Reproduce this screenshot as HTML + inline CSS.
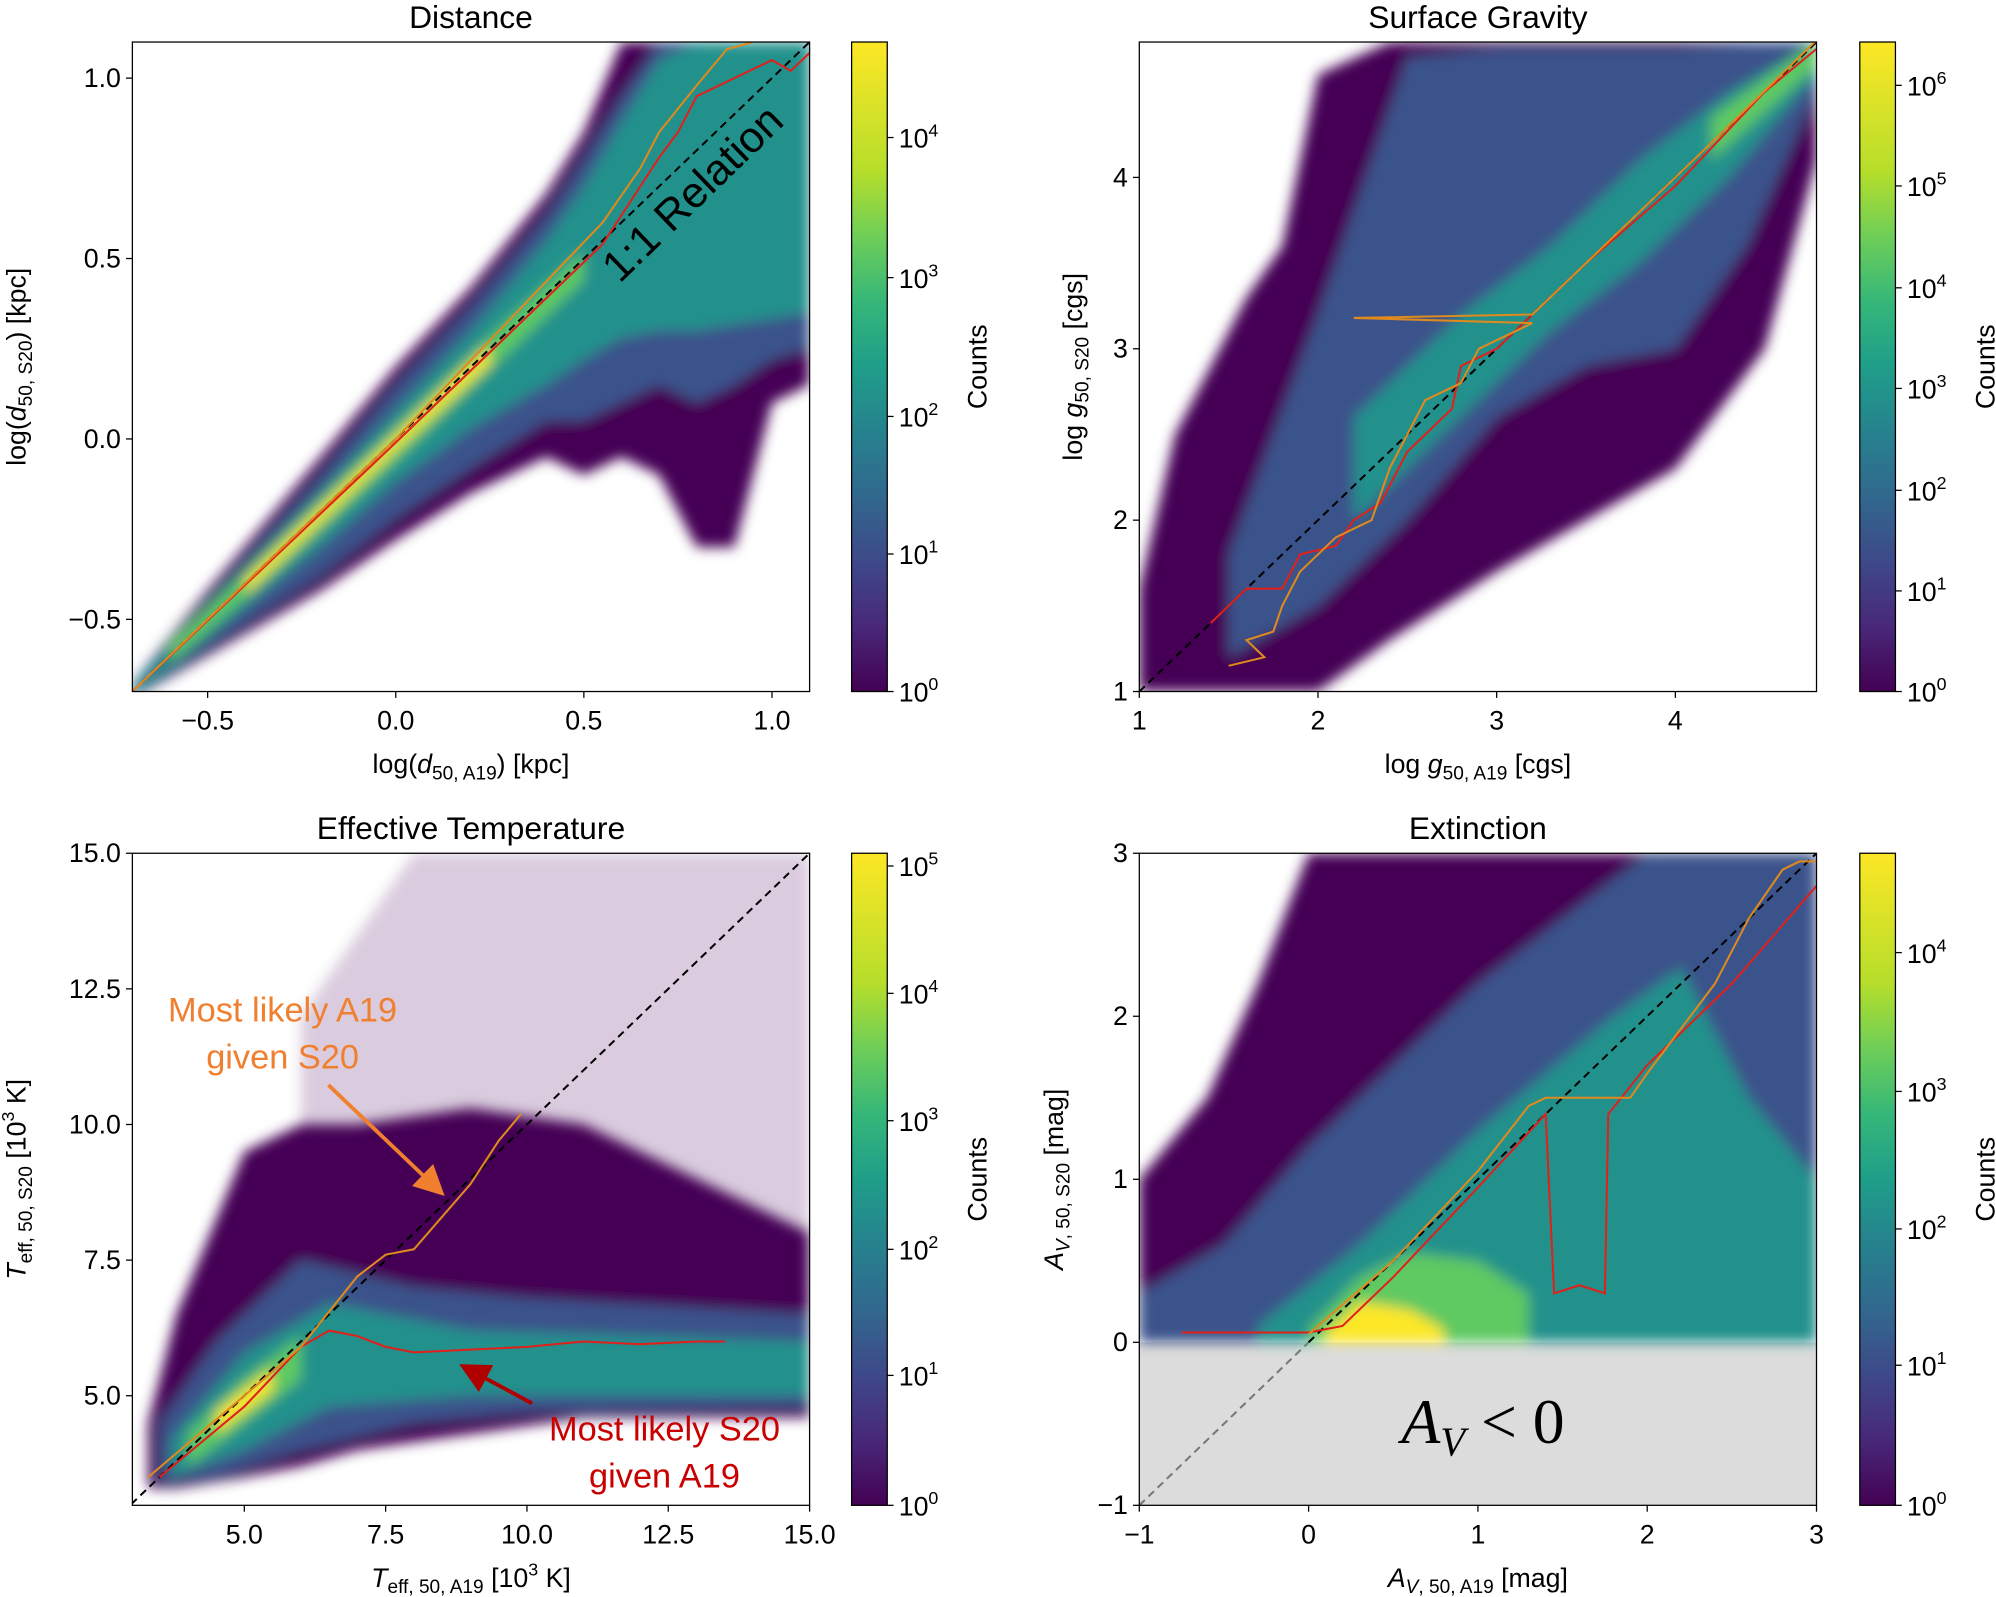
<!DOCTYPE html>
<html><head><meta charset="utf-8"><style>
html,body{margin:0;padding:0;background:#fff;}
svg{display:block;font-family:"Liberation Sans","DejaVu Sans",sans-serif;}
</style></head><body>
<svg id="fig" width="1996" height="1597" viewBox="0 0 1568 1254" preserveAspectRatio="none" xmlns="http://www.w3.org/2000/svg">
<defs>
<linearGradient id="vir" x1="0" y1="1" x2="0" y2="0">
<stop offset="0" stop-color="#440154"/><stop offset="0.1" stop-color="#482878"/><stop offset="0.2" stop-color="#3e4989"/><stop offset="0.3" stop-color="#31688e"/><stop offset="0.4" stop-color="#26828e"/><stop offset="0.5" stop-color="#1f9e89"/><stop offset="0.6" stop-color="#35b779"/><stop offset="0.7" stop-color="#6ece58"/><stop offset="0.8" stop-color="#b5de2b"/><stop offset="1" stop-color="#fde725"/>
</linearGradient>
<filter id="blur" x="-5%" y="-5%" width="110%" height="110%"><feGaussianBlur stdDeviation="5"/></filter>
<marker id="ahO" markerWidth="8" markerHeight="8" refX="6" refY="4" orient="auto"><path d="M0,0 L8,4 L0,8 z" fill="#f07f30"/></marker>
<marker id="ahR" markerWidth="8" markerHeight="8" refX="6" refY="4" orient="auto"><path d="M0,0 L8,4 L0,8 z" fill="#b00000"/></marker>
</defs>
</svg>
<script>
// ---------- data ----------
const distLayers = [
 [[-0.7,-0.72,-0.68],[-0.5,-0.6,-0.42],[-0.2,-0.42,-0.05],[0,-0.28,0.2],[0.2,-0.15,0.42],[0.4,-0.05,0.68],[0.5,-0.1,0.85],[0.6,-0.05,1.1],[0.7,-0.1,1.1],[0.8,-0.3,1.1],[0.9,-0.3,1.1],[1.0,0.1,1.1],[1.1,0.15,1.1]],
 [[-0.7,-0.72,-0.68],[-0.5,-0.58,-0.45],[-0.2,-0.38,-0.1],[0,-0.22,0.15],[0.2,-0.08,0.37],[0.4,0.05,0.62],[0.5,0.05,0.78],[0.6,0.1,0.95],[0.7,0.15,1.1],[0.8,0.1,1.1],[0.9,0.15,1.1],[1.0,0.22,1.1],[1.1,0.25,1.1]],
 [[-0.7,-0.71,-0.69],[-0.5,-0.55,-0.47],[-0.2,-0.3,-0.15],[0,-0.12,0.08],[0.2,0.03,0.3],[0.4,0.15,0.55],[0.5,0.22,0.7],[0.6,0.28,0.88],[0.7,0.3,1.05],[0.8,0.3,1.1],[1.1,0.35,1.1]],
 [[-0.6,-0.62,-0.57],[-0.3,-0.35,-0.27],[0,-0.06,0.03],[0.3,0.24,0.33],[0.5,0.44,0.52]],
 [[-0.4,-0.43,-0.39],[0,-0.03,0.01],[0.25,0.21,0.26]]
];
const distRed = [[-0.7,-0.7],[0,-0.01],[0.55,0.54],[0.6,0.62],[0.7,0.78],[0.75,0.85],[0.8,0.95],[0.9,1.0],[1.0,1.05],[1.05,1.02],[1.1,1.07]];
const distOrange = [[-0.7,-0.7],[0,0.0],[0.55,0.6],[0.65,0.75],[0.7,0.85],[0.8,0.98],[0.88,1.08],[0.95,1.1]];
const gravLayers = [
 [[1,1,1.6],[1.2,1,2.5],[1.6,1,3.3],[1.8,1,3.6],[2.0,1,4.6],[2.4,1.3,4.79],[3,1.7,4.79],[3.5,2.0,4.79],[4,2.3,4.79],[4.5,3.0,4.79],[4.79,4.1,4.79]],
 [[1.5,1.2,1.8],[2,1.5,3.2],[2.5,2.0,4.7],[3,2.6,4.75],[3.5,2.9,4.75],[4,3.0,4.75],[4.4,3.6,4.79],[4.79,4.5,4.79]],
 [[2.2,2.0,2.6],[2.8,2.6,3.2],[3.3,3.1,3.6],[3.8,3.5,4.1],[4.3,4.0,4.5],[4.79,4.6,4.79]],
 [[4.2,4.1,4.35],[4.79,4.65,4.79]]
];
const gravRed = [[1.4,1.4],[1.6,1.6],[1.8,1.6],[1.9,1.8],[2.1,1.85],[2.2,2.0],[2.35,2.1],[2.5,2.4],[2.6,2.5],[2.75,2.65],[2.8,2.9],[3.0,3.0],[3.2,3.2],[3.5,3.5],[4.0,3.95],[4.5,4.5],[4.79,4.75]];
const gravOrange = [[1.5,1.15],[1.7,1.2],[1.6,1.3],[1.75,1.35],[1.8,1.5],[1.9,1.7],[2.1,1.9],[2.3,2.0],[2.4,2.3],[2.5,2.5],[2.6,2.7],[2.8,2.8],[2.9,3.0],[3.2,3.15],[2.2,3.18],[3.2,3.2],[3.3,3.3],[3.6,3.6],[4.2,4.2],[4.79,4.8]];
const teffLayers = [
 [[3.3,3.3,4.5],[3.8,3.3,6.5],[5,3.5,9.5],[6,3.7,10],[7,4.0,10],[9,4.3,10.3],[11,4.6,10],[13,4.6,9],[15,4.6,8]],
 [[3.5,3.4,4.5],[4.5,3.5,6],[6,4,7.5],[8,4.5,7],[10,4.7,6.8],[15,4.8,6.5]],
 [[3.7,3.5,4.2],[5,4.0,5.8],[6.5,4.8,6.7],[9,5.0,6.2],[15,5.0,6.0]],
 [[4,3.7,4.3],[5,4.5,5.3],[6,5.3,6.1]],
 [[4.5,4.3,4.7],[5.5,5.1,5.5]]
];
const teffSparse = [[6,9,12],[8,9,15],[10,9,15],[13,8,15],[15,7,15]];
const teffRed = [[3.5,3.5],[5,4.8],[6,5.9],[6.5,6.2],[7,6.1],[7.5,5.9],[8,5.8],[9,5.85],[10,5.9],[11,6.0],[12,5.95],[13,6.0],[13.5,6.0]];
const teffOrange = [[3.3,3.5],[5,5.0],[6,5.9],[7,7.2],[7.5,7.6],[8,7.7],[8.5,8.3],[9,8.9],[9.5,9.7],[9.9,10.2]];
const extLayers = [
 [[-1,0,1.0],[-0.6,0,1.5],[-0.3,0,2.2],[0,0,3],[3,0,3]],
 [[-1,0,0.3],[-0.5,0,0.6],[0,0,1.2],[0.5,0,1.7],[1,0,2.2],[2,0,3],[3,0,3]],
 [[-0.3,0,0.1],[0.3,0,0.6],[1,0,1.3],[1.8,0,2.0],[2.2,0,2.3],[2.6,0,1.5],[3,0,1.0]],
 [[0,0,0.08],[0.3,0,0.4],[0.6,0,0.55],[1.0,0,0.5],[1.3,0,0.3]],
 [[0.1,0,0.06],[0.3,0,0.25],[0.6,0,0.2],[0.8,0,0.08]]
];
const extRed = [[-0.75,0.06],[0,0.06],[0.2,0.1],[0.5,0.4],[1.0,0.95],[1.4,1.4],[1.45,0.3],[1.6,0.35],[1.75,0.3],[1.77,1.4],[2.0,1.7],[2.5,2.2],[3.0,2.8]];
const extOrange = [[0,0.05],[0.5,0.5],[1.0,1.05],[1.3,1.45],[1.4,1.5],[1.9,1.5],[2.0,1.65],[2.4,2.2],[2.6,2.6],[2.8,2.9],[2.9,2.95],[3.0,2.95]];
const layerColors = ["#440154","#3b528b","#21918c","#5ec962","#fde725"];

// ---------- helpers ----------
const NS="http://www.w3.org/2000/svg";
const svg=document.getElementById('fig');
function mk(tag,attrs,parent){const e=document.createElementNS(NS,tag);for(const k in attrs)e.setAttribute(k,attrs[k]);(parent||svg).appendChild(e);return e;}
function scale(d0,d1,p0,p1){return v=>p0+(v-d0)/(d1-d0)*(p1-p0);}
let clipId=0;

function panel(cfg){
 const g=mk('g',{});
 
 
 const X=scale(cfg.xr[0],cfg.xr[1],cfg.px[0],cfg.px[1]);
 const Y=scale(cfg.yr[0],cfg.yr[1],cfg.py[0],cfg.py[1]);
 const id='clip'+(clipId++);
 const cp=mk('clipPath',{id:id},g);
 mk('rect',{x:cfg.px[0],y:cfg.py[1],width:cfg.px[1]-cfg.px[0],height:cfg.py[0]-cfg.py[1]},cp);
 const hg=mk('g',{'clip-path':'url(#'+id+')'},g);
 
 
 if(cfg.pre)cfg.pre(hg,X,Y);
 const bg=mk('g',{filter:'url(#blur)'},hg);
 function layer(L,color,op){
  const pts=L.map(p=>X(p[0])+','+Y(p[2])).concat(L.slice().reverse().map(p=>X(p[0])+','+Y(p[1])));
  const pg=mk('polygon',{points:pts.join(' '),fill:color,opacity:op},bg);
  
  
 }
 if(cfg.sparse)layer(cfg.sparse,"#440154",0.2);
 cfg.layers.forEach((L,i)=>layer(L,layerColors[i],1));
 const d=mk('line',{x1:X(cfg.diag[0]),y1:Y(cfg.diag[0]),x2:X(cfg.diag[1]),y2:Y(cfg.diag[1]),stroke:'#000','stroke-width':1.6,'stroke-dasharray':'6,4'},hg);
 
 
 const lr=mk('polyline',{points:cfg.red.map(p=>X(p[0])+','+Y(p[1])).join(' '),fill:'none',stroke:'#e0201b','stroke-width':1.6},hg);
 
 
 const lo=mk('polyline',{points:cfg.orange.map(p=>X(p[0])+','+Y(p[1])).join(' '),fill:'none',stroke:'#e08a1e','stroke-width':1.6},hg);
 
 
 const fr=mk('rect',{x:cfg.px[0],y:cfg.py[1],width:cfg.px[1]-cfg.px[0],height:cfg.py[0]-cfg.py[1],fill:'none',stroke:'#000','stroke-width':1},g);
 
 
 cfg.xt.forEach((t,i)=>{const x=X(t);mk('line',{x1:x,x2:x,y1:cfg.py[0],y2:cfg.py[0]+5,stroke:'#000'},g);
  const tx=mk('text',{x:x,y:cfg.py[0]+30,'font-size':21,'text-anchor':'middle'},g);tx.textContent=cfg.xtl[i];
  
  });
 cfg.yt.forEach((t,i)=>{const y=Y(t);mk('line',{x1:cfg.px[0]-5,x2:cfg.px[0],y1:y,y2:y,stroke:'#000'},g);
  const tx=mk('text',{x:cfg.px[0]-9,y:y+7,'font-size':21,'text-anchor':'end'},g);tx.textContent=cfg.ytl[i];
  
  });
 const ti=mk('text',{x:(cfg.px[0]+cfg.px[1])/2,y:cfg.py[1]-11,'font-size':25,'text-anchor':'middle'},g);ti.textContent=cfg.title;
 
 
 const xl=mk('text',{x:(cfg.px[0]+cfg.px[1])/2,y:cfg.py[0]+64,'font-size':21,'text-anchor':'middle'},g);xl.innerHTML=cfg.xlab;
 
 
 const yl=mk('text',{x:0,y:0,'font-size':21,'text-anchor':'middle',transform:'translate('+cfg.ylx+','+(cfg.py[0]+cfg.py[1])/2+') rotate(-90)'},g);yl.innerHTML=cfg.ylab;
 
 
 const cb=mk('rect',{x:cfg.cbx,y:cfg.py[1],width:28,height:cfg.py[0]-cfg.py[1],fill:'url(#vir)',stroke:'#000','stroke-width':1},g);
 
 
 cfg.cbt.forEach((y,i)=>{mk('line',{x1:cfg.cbx+28,x2:cfg.cbx+33,y1:y,y2:y,stroke:'#000'},g);
  const tx=mk('text',{x:cfg.cbx+37,y:y+8,'font-size':21},g);tx.innerHTML='10<tspan font-size="14" dy="-9">'+i+'</tspan>';
  
  });
 const cl=mk('text',{x:0,y:0,'font-size':21,'text-anchor':'middle',transform:'translate('+(cfg.cbx+106)+','+(cfg.py[0]+cfg.py[1])/2+') rotate(-90)'},g);cl.textContent='Counts';
 
 
 return {g,X,Y};
}
const sub=s=>'<tspan font-size="15" dy="5">'+s+'</tspan><tspan dy="-5">';

panel({name:'distance-panel',title:'Distance',xr:[-0.7,1.1],yr:[-0.7,1.1],px:[104,636],py:[543,33],layers:distLayers,diag:[-0.7,1.1],red:distRed,orange:distOrange,
 xt:[-0.5,0,0.5,1.0],xtl:['\u22120.5','0.0','0.5','1.0'],yt:[-0.5,0,0.5,1.0],ytl:['\u22120.5','0.0','0.5','1.0'],
 xlab:'log(<tspan font-style="italic">d</tspan>'+sub('50, A19')+') [kpc]</tspan>',ylab:'log(<tspan font-style="italic">d</tspan>'+sub('50, S20')+') [kpc]</tspan>',ylx:20,
 cbx:669,cbt:[543,435,327,218,108]});
const rel=mk('text',{x:0,y:0,'font-size':34,'text-anchor':'middle',transform:'translate(552,160) rotate(-44)'});rel.textContent='1:1 Relation';



panel({name:'surface-gravity-panel',title:'Surface Gravity',xr:[1,4.79],yr:[1,4.79],px:[895,1427],py:[543,33],layers:gravLayers,diag:[1,4.79],red:gravRed,orange:gravOrange,
 xt:[1,2,3,4],xtl:['1','2','3','4'],yt:[1,2,3,4],ytl:['1','2','3','4'],
 xlab:'log <tspan font-style="italic">g</tspan>'+sub('50, A19')+' [cgs]</tspan>',ylab:'log <tspan font-style="italic">g</tspan>'+sub('50, S20')+' [cgs]</tspan>',ylx:850,
 cbx:1461,cbt:[543,464,385,305,226,146,67]});

panel({name:'effective-temperature-panel',title:'Effective Temperature',xr:[3.02,15],yr:[2.98,15],px:[104,636],py:[1182,670],layers:teffLayers,sparse:teffSparse,diag:[3,15],red:teffRed,orange:teffOrange,
 xt:[5,7.5,10,12.5,15],xtl:['5.0','7.5','10.0','12.5','15.0'],yt:[5,7.5,10,12.5,15],ytl:['5.0','7.5','10.0','12.5','15.0'],
 xlab:'<tspan font-style="italic">T</tspan>'+sub('eff, 50, A19')+' [10<tspan font-size="14" dy="-9">3</tspan><tspan dy="9"> K]</tspan></tspan>',
 ylab:'<tspan font-style="italic">T</tspan>'+sub('eff, 50, S20')+' [10<tspan font-size="14" dy="-9">3</tspan><tspan dy="9"> K]</tspan></tspan>',ylx:20,
 cbx:669,cbt:[1182,1080,981,880,780,680]});
function ann(lines,x,y,color,name){lines.forEach((s,i)=>{const t=mk('text',{x:x,y:y+i*37,'font-size':27,'text-anchor':'middle',fill:color});t.textContent=s;
 
 });}
ann(['Most likely A19','given S20'],222,802,'#f07f30','orange-annotation');
ann(['Most likely S20','given A19'],522,1131,'#c80000','red-annotation');
const a1=mk('line',{x1:258,y1:852,x2:345,y2:935,stroke:'#f07f30','stroke-width':3,'marker-end':'url(#ahO)'});


const a2=mk('line',{x1:418,y1:1102,x2:366,y2:1074,stroke:'#b00000','stroke-width':3,'marker-end':'url(#ahR)'});



panel({name:'extinction-panel',title:'Extinction',xr:[-1,3],yr:[-1,3],px:[895,1427],py:[1182,670],layers:extLayers,diag:[0,3],red:extRed,orange:extOrange,
 pre:(hg,X,Y)=>{const r=mk('rect',{x:X(-1),y:Y(0),width:X(3)-X(-1),height:Y(-1)-Y(0),fill:'#dcdcdc'},hg);
  
  
  const l=mk('line',{x1:X(-1),y1:Y(-1),x2:X(0),y2:Y(0),stroke:'#777','stroke-width':1.6,'stroke-dasharray':'6,4'},hg);
  
  },
 xt:[-1,0,1,2,3],xtl:['\u22121','0','1','2','3'],yt:[-1,0,1,2,3],ytl:['\u22121','0','1','2','3'],
 xlab:'<tspan font-style="italic">A</tspan>'+sub('<tspan font-style="italic">V</tspan>, 50, A19')+' [mag]</tspan>',
 ylab:'<tspan font-style="italic">A</tspan>'+sub('<tspan font-style="italic">V</tspan>, 50, S20')+' [mag]</tspan>',ylx:835,
 cbx:1461,cbt:[1182,1072,965,857,748]});
const av=mk('text',{x:1165,y:1133,'font-size':50,'text-anchor':'middle','font-family':'Liberation Serif, serif'});
av.innerHTML='<tspan font-style="italic">A</tspan><tspan font-style="italic" font-size="32" dy="10">V</tspan><tspan dy="-10"> &lt; 0</tspan>';


</script>
</body></html>
